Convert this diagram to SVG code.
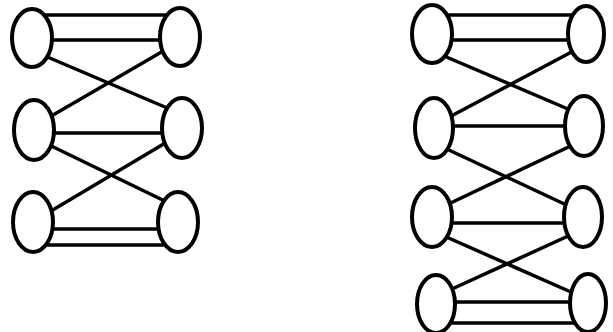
<svg xmlns="http://www.w3.org/2000/svg" width="613" height="332" viewBox="0 0 613 332">
<style>
.e{stroke:#000;stroke-width:3.5;fill:none;stroke-linecap:round}
.n{stroke:#000;stroke-width:4;fill:#fff}
</style>
<rect width="613" height="332" fill="#fff"/>
<g id="connectors">
<line class="e" x1="35" y1="15" x2="180" y2="15"/>
<line class="e" x1="35" y1="40" x2="180" y2="40"/>
<line class="e" x1="38" y1="53" x2="179" y2="113"/>
<line class="e" x1="177" y1="43" x2="41" y2="122"/>
<line class="e" x1="34" y1="133" x2="182" y2="133"/>
<line class="e" x1="41" y1="141" x2="175" y2="206"/>
<line class="e" x1="177" y1="136" x2="41" y2="217"/>
<line class="e" x1="33" y1="229" x2="178" y2="229"/>
<line class="e" x1="33" y1="245" x2="178" y2="245"/>

<line class="e" x1="432" y1="15" x2="586" y2="15"/>
<line class="e" x1="432" y1="40" x2="586" y2="40"/>
<line class="e" x1="437" y1="53" x2="575" y2="112"/>
<line class="e" x1="579" y1="48" x2="440" y2="122"/>
<line class="e" x1="434" y1="126" x2="584" y2="126"/>
<line class="e" x1="436" y1="144" x2="575" y2="209"/>
<line class="e" x1="579" y1="142" x2="438" y2="209"/>
<line class="e" x1="432" y1="223" x2="583" y2="223"/>
<line class="e" x1="435" y1="232" x2="580" y2="296"/>
<line class="e" x1="577" y1="232" x2="441" y2="294"/>
<line class="e" x1="436" y1="302" x2="588" y2="302"/>
<line class="e" x1="436" y1="323" x2="588" y2="323"/>
</g>
<g id="L1"><ellipse class="n" cx="32" cy="38" rx="20" ry="29"/></g>
<g id="R1"><ellipse class="n" cx="180" cy="37" rx="20" ry="29"/></g>
<g id="L2"><ellipse class="n" cx="34" cy="130" rx="20" ry="30"/></g>
<g id="R2"><ellipse class="n" cx="182" cy="128" rx="20" ry="30"/></g>
<g id="L3"><ellipse class="n" cx="33" cy="222" rx="20" ry="30"/></g>
<g id="R3"><ellipse class="n" cx="178" cy="222" rx="20" ry="30"/></g>

<g id="A1"><ellipse class="n" cx="432" cy="34" rx="20" ry="29"/></g>
<g id="B1"><ellipse class="n" cx="586" cy="34" rx="18" ry="28"/></g>
<g id="A2"><ellipse class="n" cx="434" cy="128" rx="19" ry="30"/></g>
<g id="B2"><ellipse class="n" cx="584" cy="126" rx="19" ry="30"/></g>
<g id="A3"><ellipse class="n" cx="432" cy="217" rx="20" ry="30"/></g>
<g id="B3"><ellipse class="n" cx="583" cy="217" rx="19" ry="30"/></g>
<g id="A4"><ellipse class="n" cx="436" cy="304" rx="19" ry="29"/></g>
<g id="B4"><ellipse class="n" cx="588" cy="303" rx="18" ry="29"/></g>
</svg>
